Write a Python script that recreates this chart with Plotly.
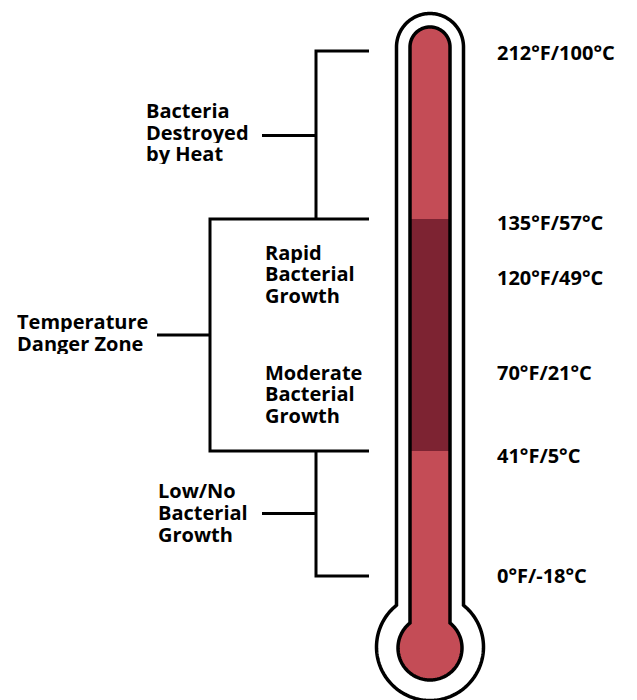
import numpy as np
import plotly.graph_objects as go

# ---------------- data ----------------
temps_f = [212, 135, 120, 70, 41, 0]
temps_c = [100, 57, 49, 21, 5, -18]
zone_lines = [
    ["Bacteria", "Destroyed", "by Heat"],
    ["Temperature", "Danger Zone"],
    ["Rapid", "Bacterial", "Growth"],
    ["Moderate", "Bacterial", "Growth"],
    ["Low/No", "Bacterial", "Growth"],
]
danger_low_f, danger_high_f = 41, 135

# ---------------- layout (positions on the thermometer's pixel-like scale) ----------------
W, H = 637, 700
mark_y = {212: 51, 135: 219, 120: 277, 70: 372, 41: 451, 0: 576}   # bracket / level positions
label_y = [52.5, 222, 277, 372, 455, 575]                         # right-hand label centers
label_x = 495.5
zone_anchor = [(144.5, 132.5), (15.5, 333), (263.5, 274.3), (263.5, 394.2), (157, 513)]
line_gap = 21.7

LIGHT = "#C44C56"
DARK = "#7D2332"
FONT = dict(family="Open Sans", size=20, color="black", weight="bold")

cx, top_cy = 430, 47


def tube_path(hw, bulb_cy, r, n=80):
    jd = np.sqrt(r * r - hw * hw)
    pts = [(cx - hw, bulb_cy - jd)]
    for t in np.linspace(np.pi, 0, n):
        pts.append((cx + hw * np.cos(t), top_cy - hw * np.sin(t)))
    pts.append((cx + hw, bulb_cy - jd))
    phi0 = np.arccos(hw / r)
    for p in np.linspace(phi0, -np.pi - phi0, 2 * n):
        pts.append((cx + r * np.cos(p), bulb_cy - r * np.sin(p)))
    return "M " + " L ".join(f"{x:.2f},{y:.2f}" for x, y in pts) + " Z"


outer = tube_path(33.5, 647, 53.5)
inner = tube_path(20, 648, 32)

shapes = [
    dict(type="path", path=outer, fillcolor="white", line=dict(color="black", width=3.5), layer="above"),
    dict(type="path", path=inner, fillcolor=LIGHT, line=dict(width=0), layer="above"),
    dict(type="rect", x0=cx - 20, x1=cx + 20, y0=mark_y[danger_high_f], y1=mark_y[danger_low_f],
         fillcolor=DARK, line=dict(width=0), layer="above"),
    dict(type="path", path=inner, fillcolor="rgba(0,0,0,0)", line=dict(color="black", width=3.5), layer="above"),
]

# brackets
bx_right = 369
bx_a, bx_b = 316, 210
ln = dict(color="black", width=3)


def seg(x0, y0, x1, y1):
    return dict(type="line", x0=x0, y0=y0, x1=x1, y1=y1, line=ln, layer="above")


y212, y135, y41, y0 = mark_y[212], mark_y[135], mark_y[41], mark_y[0]
shapes += [
    dict(type="path", path=f"M {bx_right},{y212} L {bx_a},{y212} L {bx_a},{y135}", line=ln, layer="above"),
    dict(type="path", path=f"M {bx_right},{y135} L {bx_b},{y135} L {bx_b},{y41} L {bx_right},{y41}", line=ln, layer="above"),
    dict(type="path", path=f"M {bx_a},{y41} L {bx_a},{y0} L {bx_right},{y0}", line=ln, layer="above"),
    seg(262, (y212 + y135) / 2 + 0.5, bx_a, (y212 + y135) / 2 + 0.5),
    seg(157, (y135 + y41) / 2, bx_b, (y135 + y41) / 2),
    seg(262, (y41 + y0) / 2, bx_a, (y41 + y0) / 2),
]

annotations = []
for f, c, yy in zip(temps_f, temps_c, label_y):
    annotations.append(dict(x=label_x, y=yy, xref="x", yref="y", text=f"{f}°F/{c}°C",
                            showarrow=False, xanchor="left", yanchor="middle", font=FONT, borderpad=0))
for lines, (ax, ay) in zip(zone_lines, zone_anchor):
    n = len(lines)
    for i, t in enumerate(lines):
        yy = ay + (i - (n - 1) / 2) * line_gap
        annotations.append(dict(x=ax, y=yy - 0.5, xref="x", yref="y", text=t, showarrow=False,
                                xanchor="left", yanchor="middle", font=FONT, borderpad=0,
                                height=21))

fig = go.Figure(go.Scatter(x=[0], y=[0], mode="markers", marker=dict(opacity=0), hoverinfo="skip"))
fig.update_layout(
    width=W, height=H, margin=dict(l=0, r=0, t=0, b=0),
    paper_bgcolor="white", plot_bgcolor="white", showlegend=False,
    xaxis=dict(range=[0, W], visible=False, fixedrange=True),
    yaxis=dict(range=[H, 0], visible=False, fixedrange=True),
    shapes=shapes, annotations=annotations,
)
fig.write_html("out.html", config={"displayModeBar": False},
               post_script="document.body.style.margin='0px';document.body.style.overflow='hidden';")
